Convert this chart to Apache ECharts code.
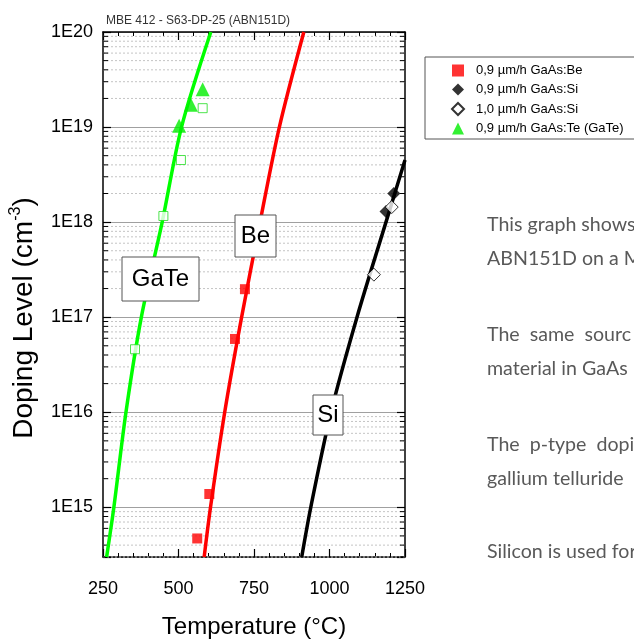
<!DOCTYPE html>
<html>
<head>
<meta charset="utf-8">
<title>MBE 412 doping calibration</title>
<script src="https://cdn.jsdelivr.net/npm/echarts@6/dist/echarts.min.js"></script>
<style>html,body{margin:0;padding:0;background:#fff;}</style>
</head>
<body>
<div id="main" style="width:634px;height:644px"></div>
<script type="text/javascript">
    // measured points
    var beTemp = [562, 602, 687, 720];
    var beDoping = [4.7e14, 1.38e15, 5.9e16, 1.97e17];
    var si09Temp = [1187, 1213];
    var si09Doping = [1.29e18, 2.0e18];
    var si10Temp = [1147, 1206];
    var si10Doping = [2.8e17, 1.44e18];
    var teTemp = [502, 541, 580];
    var teDoping = [1.03e19, 1.72e19, 2.5e19];
    var teOpenTemp = [356, 450, 508, 580];
    var teOpenDoping = [4.6e16, 1.16e18, 4.5e18, 1.58e19];

    // fitted curves
    var gateFitTemp = [262, 286, 326, 377, 446, 510, 607];
    var gateFitDoping = [3e14, 1e15, 1e16, 1e17, 1e18, 1e19, 1e20];
    var beFitTemp = [585, 606, 653, 709, 770, 834, 915];
    var beFitDoping = [3e14, 1e15, 1e16, 1e17, 1e18, 1e19, 1e20];
    var siFitTemp = [908, 938, 1005, 1091, 1187, 1250];
    var siFitDoping = [3e14, 1e15, 1e16, 1e17, 1e18, 4.5e18];

    var legendNames = ['0,9 µm/h GaAs:Be', '0,9 µm/h GaAs:Si', '1,0 µm/h GaAs:Si', '0,9 µm/h GaAs:Te (GaTe)'];
    var tempTicks = [250, 500, 750, 1000, 1250];

    // minor log grid values (2..9 x 10^n)
    var mantissas = [2, 3, 4, 5, 6, 7, 8, 9];
    var decades = [14, 15, 16, 17, 18, 19];
    var minorVals = [];
    decades.forEach(function (d) {
        mantissas.forEach(function (m) {
            var v = m * Math.pow(10, d);
            if (v >= 3e14) minorVals.push(v);
        });
    });

    function pairs(xs, ys) {
        return xs.map(function (x, i) { return [x, ys[i]]; });
    }

    var font = 'Liberation Sans, Arial, sans-serif';
    var myChart = echarts.init(document.getElementById('main'));

    var xBase = {
        type: 'value', min: tempTicks[0], max: tempTicks[tempTicks.length - 1], interval: 250,
        axisLine: { show: true, onZero: false, lineStyle: { color: '#000', width: 1.5 } },
        axisTick: { show: true, inside: true, length: 8, lineStyle: { color: '#000', width: 1.2 } },
        minorTick: { show: true, splitNumber: 5, length: 4, lineStyle: { color: '#000', width: 1 } },
        splitLine: { show: false }
    };
    var yBase = {
        type: 'log', logBase: 10, min: 3e14, max: 1e20,
        axisLine: { show: true, onZero: false, lineStyle: { color: '#000', width: 1.5 } },
        axisTick: { show: true, inside: true, length: 8, lineStyle: { color: '#000', width: 1.2 } }
    };

    option = {
        animation: false,
        backgroundColor: '#fff',
        grid: { left: 103, top: 32, width: 302, height: 525 },
        legend: {
            data: legendNames,
            orient: 'vertical',
            left: 446,
            top: 59,
            itemWidth: 12,
            itemHeight: 12,
            itemGap: 6,
            selectedMode: false,
            textStyle: { fontSize: 13, color: '#000', fontFamily: font, padding: [0, 0, 0, 7] }
        },
        xAxis: [
            Object.assign({}, xBase, {
                position: 'bottom',
                axisLabel: {
                    fontSize: 18, color: '#000', fontFamily: font, margin: 23,
                    formatter: function (v) { return String(v); }
                }
            }),
            Object.assign({}, xBase, { position: 'top', axisLabel: { show: false } })
        ],
        yAxis: [
            Object.assign({}, yBase, {
                position: 'left',
                axisLabel: {
                    fontSize: 18, color: '#000', fontFamily: font, margin: 10,
                    formatter: function (v) {
                        var e = Math.log10(v);
                        return Math.abs(e - Math.round(e)) < 1e-6 ? '1E' + Math.round(e) : '';
                    }
                },
                splitLine: { show: true, lineStyle: { color: '#a0a0a0', width: 1 } }
            }),
            Object.assign({}, yBase, {
                position: 'right',
                axisLabel: { show: false },
                splitLine: { show: false }
            })
        ],
        series: [
            {
                name: 'minor',
                type: 'custom',
                silent: true,
                z: 1,
                data: minorVals.map(function (v) { return [tempTicks[0], v]; }),
                renderItem: function (params, api) {
                    var y = api.coord([tempTicks[0], api.value(1)])[1];
                    var x0 = params.coordSys.x;
                    var x1 = x0 + params.coordSys.width;
                    return {
                        type: 'group',
                        children: [
                            { type: 'line', shape: { x1: x0, y1: y, x2: x1, y2: y }, style: { stroke: '#c4c4c4', lineWidth: 1, lineDash: [2, 2] } },
                            { type: 'line', shape: { x1: x0, y1: y, x2: x0 + 5, y2: y }, style: { stroke: '#000', lineWidth: 1 } },
                            { type: 'line', shape: { x1: x1 - 5, y1: y, x2: x1, y2: y }, style: { stroke: '#000', lineWidth: 1 } }
                        ]
                    };
                }
            },
            {
                name: 'GaTe fit', type: 'line', smooth: 0.3, showSymbol: false, silent: true, z: 3,
                data: pairs(gateFitTemp, gateFitDoping),
                lineStyle: { color: '#00ff00', width: 3.5 }
            },
            {
                name: 'Be fit', type: 'line', smooth: 0.3, showSymbol: false, silent: true, z: 3,
                data: pairs(beFitTemp, beFitDoping),
                lineStyle: { color: '#ff0000', width: 3.5 }
            },
            {
                name: 'Si fit', type: 'line', smooth: 0.3, showSymbol: false, silent: true, z: 3,
                data: pairs(siFitTemp, siFitDoping),
                lineStyle: { color: '#000', width: 3.5 }
            },
            {
                name: 'GaTe open', type: 'scatter', symbol: 'rect', symbolSize: 9, z: 4,
                data: pairs(teOpenTemp, teOpenDoping),
                itemStyle: { color: '#fff', borderColor: '#22dd22', borderWidth: 1 }
            },
            {
                name: legendNames[0], type: 'scatter', symbol: 'rect', symbolSize: 10, z: 4,
                data: pairs(beTemp, beDoping),
                itemStyle: { color: '#ff0000' }
            },
            {
                name: legendNames[1], type: 'scatter', symbol: 'diamond', symbolSize: 13, z: 4,
                data: pairs(si09Temp, si09Doping),
                itemStyle: { color: '#000' }
            },
            {
                name: legendNames[2], type: 'scatter', symbol: 'diamond', symbolSize: 13, z: 5,
                data: pairs(si10Temp, si10Doping),
                itemStyle: { color: '#fff', borderColor: '#000', borderWidth: 1 }
            },
            {
                name: legendNames[3], type: 'scatter', symbol: 'triangle', symbolSize: 14, z: 4,
                data: pairs(teTemp, teDoping),
                itemStyle: { color: '#00ee00' }
            }
        ],
        graphic: [
            // chart title
            { type: 'text', x: 106, y: 21, z: 10, style: { text: 'MBE 412 - S63-DP-25 (ABN151D)', fontSize: 12, fontFamily: font, fill: '#333', verticalAlign: 'middle' } },
            // axis names
            { type: 'text', x: 254, y: 627, z: 10, style: { text: 'Temperature (°C)', fontSize: 24, fontFamily: font, fill: '#000', align: 'center', verticalAlign: 'middle' } },
            {
                type: 'text', x: 24, y: 318, rotation: Math.PI / 2, z: 10,
                style: {
                    text: '{a|Doping Level (cm}{s|-3}{a|)}',
                    fontFamily: font, fill: '#000', align: 'center', verticalAlign: 'middle',
                    rich: {
                        a: { fontSize: 28, fontFamily: font, lineHeight: 32 },
                        s: { fontSize: 16, fontFamily: font, verticalAlign: 'top', lineHeight: 17 }
                    }
                }
            },
            // curve labels
            { type: 'rect', shape: { x: 122, y: 257, width: 77, height: 44 }, z: 10, style: { fill: '#fff', stroke: '#555', lineWidth: 1 } },
            { type: 'text', x: 160.5, y: 279, z: 11, style: { text: 'GaTe', fontSize: 24, fontFamily: font, fill: '#000', align: 'center', verticalAlign: 'middle' } },
            { type: 'rect', shape: { x: 235, y: 215, width: 41, height: 42 }, z: 10, style: { fill: '#fff', stroke: '#555', lineWidth: 1 } },
            { type: 'text', x: 255.5, y: 236, z: 11, style: { text: 'Be', fontSize: 24, fontFamily: font, fill: '#000', align: 'center', verticalAlign: 'middle' } },
            { type: 'rect', shape: { x: 313, y: 395, width: 30, height: 40 }, z: 10, style: { fill: '#fff', stroke: '#555', lineWidth: 1 } },
            { type: 'text', x: 328, y: 415, z: 11, style: { text: 'Si', fontSize: 24, fontFamily: font, fill: '#000', align: 'center', verticalAlign: 'middle' } },
            // legend frame
            { type: 'rect', shape: { x: 425, y: 57, width: 230, height: 82 }, z: 0, style: { fill: '#fff', stroke: '#555', lineWidth: 1 } },
            // page text beside the chart
            { type: 'text', x: 487, y: 225, style: { text: 'This graph shows', fontSize: 19.6, fontFamily: 'Lato', fill: '#595959', verticalAlign: 'middle' } },
            { type: 'text', x: 487, y: 259, style: { text: 'ABN151D on a M', fontSize: 19.6, fontFamily: 'Lato', fill: '#595959', verticalAlign: 'middle' } },
            { type: 'text', x: 487, y: 335, style: { text: 'The  same  sourc', fontSize: 19.6, fontFamily: 'Lato', fill: '#595959', verticalAlign: 'middle' } },
            { type: 'text', x: 487, y: 369, style: { text: 'material in GaAs', fontSize: 19.6, fontFamily: 'Lato', fill: '#595959', verticalAlign: 'middle' } },
            { type: 'text', x: 487, y: 445, style: { text: 'The  p-type  dopi', fontSize: 19.6, fontFamily: 'Lato', fill: '#595959', verticalAlign: 'middle' } },
            { type: 'text', x: 487, y: 479, style: { text: 'gallium telluride', fontSize: 19.6, fontFamily: 'Lato', fill: '#595959', verticalAlign: 'middle' } },
            { type: 'text', x: 487, y: 552, style: { text: 'Silicon is used for', fontSize: 19.6, fontFamily: 'Lato', fill: '#595959', verticalAlign: 'middle' } }
        ]
    };
    myChart.setOption(option);
</script>
</body>
</html>
